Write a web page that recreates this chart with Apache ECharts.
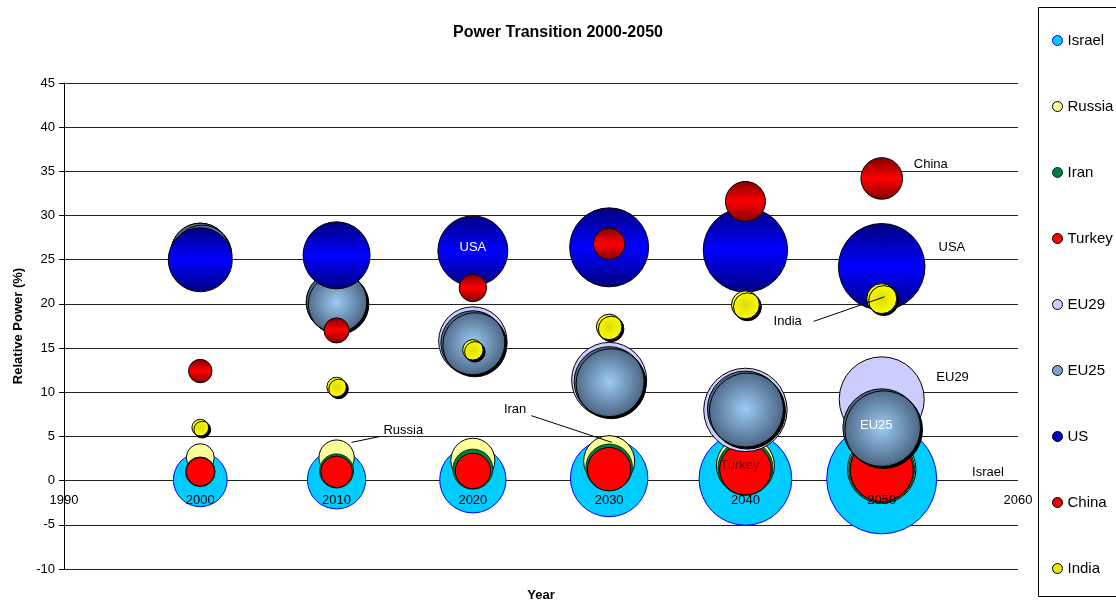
<!DOCTYPE html>
<html>
<head>
<meta charset="utf-8">
<title>Power Transition 2000-2050</title>
<script src="https://cdn.jsdelivr.net/npm/echarts@6/dist/echarts.min.js"></script>
<style>
  html, body { margin: 0; padding: 0; background: #fff; }
  #chart { width: 1116px; height: 601px; }
</style>
</head>
<body>
<div id="chart"></div>
<script>
// Years on the horizontal axis
const years = [2000, 2010, 2020, 2030, 2040, 2050];
const yTicks = { min: -10, max: 45, step: 5 };
const xTicks = { min: 1990, max: 2060, step: 10 };

// Relative power (%) per actor, and the bubble weight per actor
const israelPower  = [0.1, 0.1, 0.1, 0.3, 0.2, 0.2];
const israelWeight = [29, 34, 44, 60, 86, 121];
const russiaPower  = [2.6, 2.6, 2.3, 2.2, 1.7, 1.3];
const russiaWeight = [7.8, 12.5, 19.4, 26, 33.6, 46.8];
const iranPower    = [1.0, 1.1, 1.3, 1.5, 1.45, 1.25];
const iranWeight   = [8.8, 11.6, 16, 21.7, 30.3, 43.6];
const turkeyPower  = [1.0, 1.0, 1.1, 1.3, 1.3, 1.2];
const turkeyWeight = [8.1, 10, 12.5, 18.8, 26.6, 39.7];
const eu29Power    = [25.8, 20.2, 15.8, 11.4, 8.0, 9.2];
const eu29Weight   = [34.8, 36.7, 46.8, 56.3, 69.6, 72.3];
const eu25Power    = [25.8, 20.2, 15.6, 11.2, 8.1, 6.0];
const eu25Weight   = [34.8, 36.7, 41, 49, 57.8, 60.2];
const usPower      = [25.0, 25.5, 26.0, 26.4, 26.1, 24.2];
const usWeight     = [41, 44.9, 49, 62.4, 71.2, 75];
const chinaPower   = [12.4, 17.0, 21.8, 26.8, 31.6, 34.2];
const chinaWeight  = [5.5, 6.3, 7.5, 10, 16, 17.3];
const indiaPower   = [6.0, 10.6, 14.8, 17.4, 19.9, 20.6];
const indiaWeight  = [2.8, 3.8, 4.2, 6.5, 7.8, 9];

// Text notes placed in data space, and pointer arrows [from, to]
const notes = [
  { text: 'USA',    at: [2020.0, 26.4], tone: 'white' },
  { text: 'China',  at: [2053.6, 35.75] },
  { text: 'USA',    at: [2055.15, 26.36] },
  { text: 'EU29',   at: [2055.2, 11.65] },
  { text: 'EU25',   at: [2049.6, 6.22], tone: 'white' },
  { text: 'Israel', at: [2057.8, 0.9] },
  { text: 'Turkey', at: [2039.6, 1.7], tone: 'maroon' },
  { text: 'Russia', at: [2014.9, 5.66] },
  { text: 'Iran',   at: [2023.1, 8.03] },
  { text: 'India',  at: [2043.1, 18.0] }
];
const arrows = [
  [[2013.2, 5.0], [2011.1, 4.33]],
  [[2024.3, 7.35], [2030.2, 4.33]],
  [[2045.0, 18.02], [2050.2, 20.8]]
];

const FONT = '"Liberation Sans", Arial, sans-serif';
const GRID = { left: 64, right: 98, top: 83, bottom: 32 };
const CHART_H = 601;

function vgrad(edge, mid) {
  return { type: 'linear', x: 0, y: 0, x2: 0, y2: 1,
    colorStops: [{ offset: 0, color: edge }, { offset: 0.5, color: mid }, { offset: 1, color: edge }] };
}
function rgrad(center, edge) {
  return { type: 'radial', x: 0.5, y: 0.5, r: 0.5,
    colorStops: [{ offset: 0, color: center }, { offset: 1, color: edge }] };
}

const actors = [
  { name: 'Israel', power: israelPower, weight: israelWeight,
    style: { color: '#00ccff', borderColor: '#0000ff', borderWidth: 1 }, icon: { color: '#00ccff', borderColor: '#0000ff' } },
  { name: 'Russia', power: russiaPower, weight: russiaWeight,
    style: { color: '#ffff99', borderColor: '#000', borderWidth: 1 }, icon: { color: '#ffff99', borderColor: '#000' } },
  { name: 'Iran', power: iranPower, weight: iranWeight,
    style: { color: '#008040', borderColor: '#003318', borderWidth: 1 }, icon: { color: '#008040', borderColor: '#003318' } },
  { name: 'Turkey', power: turkeyPower, weight: turkeyWeight,
    style: { color: '#ff0000', borderColor: '#000', borderWidth: 1 }, icon: { color: '#ff0000', borderColor: '#000' } },
  { name: 'EU29', power: eu29Power, weight: eu29Weight,
    style: { color: '#ccccff', borderColor: '#000', borderWidth: 1 }, icon: { color: '#ccccff', borderColor: '#000' } },
  { name: 'EU25', power: eu25Power, weight: eu25Weight,
    style: { color: rgrad('#9ccbf5', '#4b6583'), borderColor: '#000', borderWidth: 1,
             shadowColor: '#000', shadowBlur: 0, shadowOffsetX: 2, shadowOffsetY: 2 },
    icon: { color: '#7fa3c8', borderColor: '#000' } },
  { name: 'US', power: usPower, weight: usWeight,
    style: { color: vgrad('#000080', '#0000ff'), borderColor: '#000', borderWidth: 1 },
    icon: { color: '#0000cc', borderColor: '#000' } },
  { name: 'China', power: chinaPower, weight: chinaWeight,
    style: { color: vgrad('#800000', '#ff0000'), borderColor: '#000', borderWidth: 1 },
    icon: { color: '#ee0000', borderColor: '#000' } },
  { name: 'India', power: indiaPower, weight: indiaWeight,
    style: { color: rgrad('#dcdc00', '#ffff00'), borderColor: '#000', borderWidth: 1,
             shadowColor: '#000', shadowBlur: 0, shadowOffsetX: 2, shadowOffsetY: 2 },
    icon: { color: '#e6e600', borderColor: '#000' } }
];

// Bubble diameter grows with the square root of the weight (area ~ weight)
const bubbleDiameter = d => 10 * Math.sqrt(d[2]);

const bubbleSeries = actors.map(a => ({
  name: a.name,
  type: 'scatter',
  symbol: 'circle',
  symbolSize: bubbleDiameter,
  data: years.map((y, i) => [y, a.power[i], a.weight[i]]),
  itemStyle: Object.assign({ opacity: 1 }, a.style),
  emphasis: { disabled: true },
  silent: true
}));

const toneColor = { white: '#ffffff', maroon: '#800000' };

const noteSeries = {
  name: 'notes',
  type: 'scatter',
  symbolSize: 0,
  silent: true,
  z: 5,
  itemStyle: { opacity: 1 },
  data: notes.map(n => ({
    name: n.text,
    value: n.at,
    label: { color: toneColor[n.tone] || '#000' }
  })),
  label: {
    show: true, position: 'inside', formatter: '{b}',
    fontFamily: FONT, fontSize: 13, color: '#000', opacity: 1
  },
  markLine: {
    silent: true,
    symbol: ['none', 'arrow'],
    symbolSize: [0, 8],
    label: { show: false },
    lineStyle: { color: '#000', type: 'solid', width: 1, opacity: 1 },
    emphasis: { disabled: true },
    data: arrows.map(([a, b]) => [{ coord: a }, { coord: b }])
  }
};

// The year axis crosses the value axis at zero: lift it from the bottom edge
const plotH = CHART_H - GRID.top - GRID.bottom;
const zeroLift = plotH * (0 - yTicks.min) / (yTicks.max - yTicks.min);

const chart = echarts.init(document.getElementById('chart'), null, { renderer: 'canvas' });
chart.setOption({
  animation: false,
  backgroundColor: '#ffffff',
  title: {
    text: 'Power Transition 2000-2050',
    left: 'center', top: 20,
    textStyle: { fontFamily: FONT, fontSize: 16, fontWeight: 'bold', color: '#000' }
  },
  legend: {
    orient: 'vertical',
    left: 1052, top: 33,
    padding: 0,
    itemWidth: 10, itemHeight: 10, itemGap: 51,
    icon: 'circle',
    selectedMode: false,
    textStyle: { fontFamily: FONT, fontSize: 15, color: '#000', lineHeight: 14 },
    data: actors.map(a => ({ name: a.name, itemStyle: Object.assign({ borderWidth: 1 }, a.icon) }))
  },
  graphic: [{
    type: 'rect', silent: true,
    shape: { x: 1038.5, y: 7.5, width: 100, height: 589 },
    style: { fill: 'none', stroke: '#000', lineWidth: 1 }
  }],
  grid: Object.assign({ containLabel: false, outerBoundsMode: 'none' }, GRID),
  xAxis: {
    type: 'value',
    z: 10,
    min: xTicks.min, max: xTicks.max, interval: xTicks.step,
    offset: -zeroLift,
    name: 'Year', nameLocation: 'middle', nameGap: 108,
    nameTextStyle: { fontFamily: FONT, fontSize: 13, fontWeight: 'bold', color: '#000' },
    axisLine: { show: false, onZero: false },
    axisTick: { show: false },
    axisLabel: { fontFamily: FONT, fontSize: 13, color: '#000', margin: 13, formatter: v => String(v) },
    splitLine: { show: false }
  },
  yAxis: {
    type: 'value',
    min: yTicks.min, max: yTicks.max, interval: yTicks.step,
    name: 'Relative Power (%)', nameLocation: 'middle', nameGap: 39, nameRotate: 90,
    nameTextStyle: { fontFamily: FONT, fontSize: 13, fontWeight: 'bold', color: '#000' },
    axisLine: { show: true, lineStyle: { color: '#000', width: 1 } },
    axisTick: { show: true, inside: false, length: 5, lineStyle: { color: '#000' } },
    axisLabel: { fontFamily: FONT, fontSize: 13, color: '#000', margin: 9 },
    splitLine: { show: true, lineStyle: { color: '#222', width: 1 } }
  },
  series: bubbleSeries.concat([noteSeries])
});
</script>
</body>
</html>
